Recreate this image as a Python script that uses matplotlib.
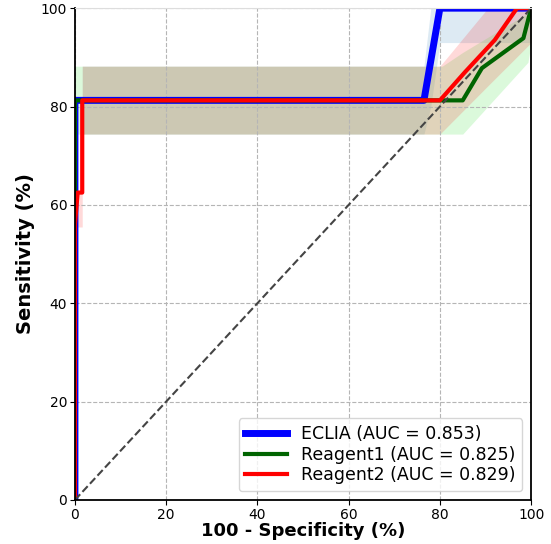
import matplotlib
matplotlib.use("Agg")
import matplotlib.pyplot as plt

# ROC curves (x = 100 - specificity, y = sensitivity), in %
eclia_x = [0, 0, 76.5, 80, 100]
eclia_y = [0, 81.25, 81.25, 100, 100]

reag1_x = [0, 0, 85, 89.2, 98.3, 100]
reag1_y = [0, 81.25, 81.25, 87.8, 93.9, 100]

reag2_x = [0, 0, 0.6, 1.6, 1.6, 80, 85.5, 92, 96.9, 100]
reag2_y = [0, 56, 62.5, 62.5, 81.25, 81.25, 87, 93.5, 100, 100]

# confidence bands
eclia_band_x = [1.6, 76.5, 78, 80, 100]
eclia_band_lo = [74.4, 74.4, 80, 93, 93]
eclia_band_hi = [88.2, 88.2, 100, 100, 100]

reag1_band_x = [0, 80.5, 85, 99.3, 100]
reag1_band_lo = [74.4, 74.4, 74.4, 89, 93]
reag1_band_hi = [88.2, 88.2, 91, 99, 100]

reag2_band_x = [0, 1.6, 1.6, 80, 90.5, 100]
reag2_band_lo = [55.5, 55.5, 74.4, 74.4, 84.2, 93]
reag2_band_hi = [62.5, 62.5, 88.2, 88.2, 100, 100]

labels = ["ECLIA (AUC = 0.853)", "Reagent1 (AUC = 0.825)", "Reagent2 (AUC = 0.829)"]

fig = plt.figure(figsize=(5.51, 5.44), dpi=100)
ax = fig.add_axes([0.136, 0.081, 0.828, 0.904])

ax.fill_between(eclia_band_x, eclia_band_lo, eclia_band_hi, color="tab:blue", alpha=0.15, lw=0)
ax.fill_between(reag1_band_x, reag1_band_lo, reag1_band_hi, color="lightgreen", alpha=0.32, lw=0)
ax.fill_between(reag2_band_x, reag2_band_lo, reag2_band_hi, color="red", alpha=0.15, lw=0)

ax.plot(eclia_x, eclia_y, color="blue", lw=5, label=labels[0])
ax.plot(reag1_x, reag1_y, color="darkgreen", lw=3, label=labels[1])
ax.plot(reag2_x, reag2_y, color="red", lw=3, label=labels[2])

ax.plot([0, 100], [0, 100], color="#444444", ls="--", lw=1.5)

ax.set_xlim(0, 100)
ax.set_ylim(0, 100)
ax.set_xticks([0, 20, 40, 60, 80, 100])
ax.set_yticks([0, 20, 40, 60, 80, 100])
ax.tick_params(labelsize=10, pad=2)
ax.grid(True, ls="--", color="#b5b5b5", lw=0.8)
ax.spines["top"].set_color("#dddddd")
for s in ["left", "bottom", "right"]:
    ax.spines[s].set_linewidth(1.3)

ax.set_xlabel("100 - Specificity (%)", fontsize=13, fontweight="bold", labelpad=0)
ax.set_ylabel("Sensitivity (%)", fontsize=14, fontweight="bold")

ax.legend(loc="lower right", fontsize=12.5, handlelength=2.4, labelspacing=0.15,
          borderaxespad=0.5)

fig.savefig("out.png", dpi=100)
